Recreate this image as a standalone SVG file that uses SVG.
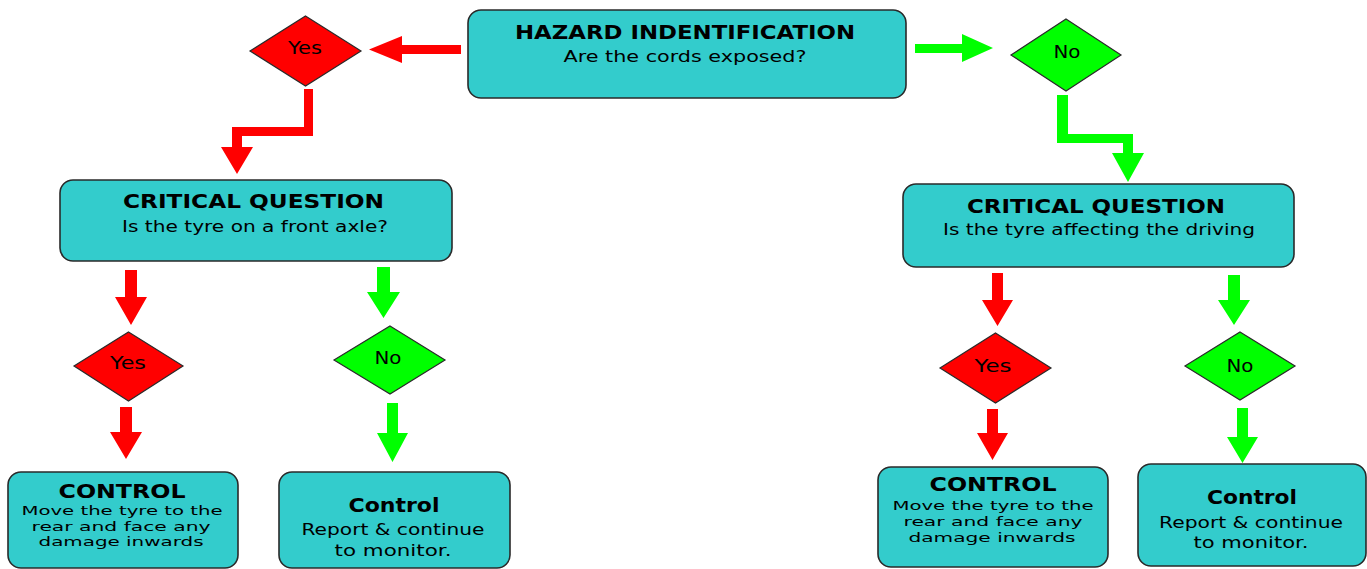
<svg xmlns="http://www.w3.org/2000/svg" width="1367" height="569" viewBox="0 0 1367 569">
<style>
.box{fill:#33CCCC;stroke:#2a2a2a;stroke-width:1.6}
.dr{fill:#FF0000;stroke:#2a2a2a;stroke-width:1.2}
.dg{fill:#00FF00;stroke:#2a2a2a;stroke-width:1.2}
.ar{fill:#FF0000}
.ag{fill:#00FF00}
text{font-family:"DejaVu Sans","Liberation Sans",sans-serif;fill:#000;text-anchor:middle}
.t{font-weight:bold;font-size:19px}
.s{font-size:15px}
.c{font-weight:bold;font-size:19px}
.l{font-size:13px}
.r{font-size:15px}
.d{font-size:17px}
</style>
<rect width="1367" height="569" fill="#fff"/>
<g id="connectors">
<polygon class="ar" points="461,45 402,45 402,36 369,49.5 402,63 402,54 461,54"/>
<polygon class="ar" points="304,89 313,89 313,136 242,136 242,147 253,147 237,174 221,147 232,147 232,127 304,127"/>
<polygon class="ag" points="915,44 962,44 962,34 993,48 962,62 962,53 915,53"/>
<polygon class="ag" points="1057,95 1068,95 1068,134 1133,134 1133,153 1144,153 1128,182 1112,153 1123,153 1123,143 1057,143"/>
<polygon class="ar" points="125,270 137,270 137,297 147,297 131,325 115,297 125,297"/>
<polygon class="ag" points="377,267 390,267 390,292 400,292 383.5,318 367,292 377,292"/>
<polygon class="ar" points="120,407 132,407 132,432 142,432 126,459 110,432 120,432"/>
<polygon class="ag" points="387,403 398,403 398,433 408,433 392.5,462 377,433 387,433"/>
<polygon class="ar" points="992,273 1003,273 1003,300 1013,300 997.5,326 982,300 992,300"/>
<polygon class="ag" points="1228,275 1240,275 1240,300 1250,300 1234,325 1218,300 1228,300"/>
<polygon class="ar" points="987,409 998,409 998,433 1008,433 992.5,460 977,433 987,433"/>
<polygon class="ag" points="1237,408 1248,408 1248,437 1258,437 1242.5,463 1227,437 1237,437"/>
</g>
<g id="hazard">
<rect class="box" x="468" y="10" width="438" height="88" rx="13"/>
<text class="t" x="685" y="39" textLength="340" lengthAdjust="spacingAndGlyphs">HAZARD INDENTIFICATION</text>
<text class="s" x="685" y="62" textLength="243" lengthAdjust="spacingAndGlyphs">Are the cords exposed?</text>
</g>
<g id="yes-top">
<polygon class="dr" points="305.5,16 361,51 305.5,86 250,51"/>
<text class="d" x="305" y="54" textLength="34" lengthAdjust="spacingAndGlyphs">Yes</text>
</g>
<g id="no-top">
<polygon class="dg" points="1066,19 1121,55 1066,91 1011,55"/>
<text class="d" x="1067" y="58" textLength="27" lengthAdjust="spacingAndGlyphs">No</text>
</g>
<g id="critical-left">
<rect class="box" x="60" y="180" width="392" height="81" rx="13"/>
<text class="t" x="253.5" y="208" textLength="261" lengthAdjust="spacingAndGlyphs">CRITICAL QUESTION</text>
<text class="s" x="255" y="232" textLength="266" lengthAdjust="spacingAndGlyphs">Is the tyre on a front axle?</text>
</g>
<g id="critical-right">
<rect class="box" x="903" y="184" width="391" height="83" rx="13"/>
<text class="t" x="1096" y="213" textLength="258" lengthAdjust="spacingAndGlyphs">CRITICAL QUESTION</text>
<text class="s" x="1099" y="235" textLength="312" lengthAdjust="spacingAndGlyphs">Is the tyre affecting the driving</text>
</g>
<g id="yes-left">
<polygon class="dr" points="128.5,332 183,366 128.5,401 74,366"/>
<text class="d" x="128" y="369" textLength="36" lengthAdjust="spacingAndGlyphs">Yes</text>
</g>
<g id="no-left">
<polygon class="dg" points="390,326 445,360 390,394 334,360"/>
<text class="d" x="388" y="364" textLength="27" lengthAdjust="spacingAndGlyphs">No</text>
</g>
<g id="yes-right">
<polygon class="dr" points="995.5,333 1051,368 995.5,403 940,368"/>
<text class="d" x="993" y="372" textLength="37" lengthAdjust="spacingAndGlyphs">Yes</text>
</g>
<g id="no-right">
<polygon class="dg" points="1240,332 1295,366 1240,400 1185,366"/>
<text class="d" x="1240" y="372" textLength="27" lengthAdjust="spacingAndGlyphs">No</text>
</g>
<g id="control-left-yes">
<rect class="box" x="8" y="472" width="230" height="96" rx="13"/>
<text class="c" x="122" y="498" textLength="127" lengthAdjust="spacingAndGlyphs">CONTROL</text>
<text class="l" x="122" y="515" textLength="201" lengthAdjust="spacingAndGlyphs">Move the tyre to the</text>
<text class="l" x="121" y="531" textLength="179" lengthAdjust="spacingAndGlyphs">rear and face any</text>
<text class="l" x="121" y="546" textLength="165" lengthAdjust="spacingAndGlyphs">damage inwards</text>
</g>
<g id="control-left-no">
<rect class="box" x="279" y="472" width="231" height="96" rx="13"/>
<text class="c" x="394" y="512" textLength="91" lengthAdjust="spacingAndGlyphs">Control</text>
<text class="r" x="393" y="535" textLength="183" lengthAdjust="spacingAndGlyphs">Report &amp; continue</text>
<text class="r" x="393" y="556" textLength="117" lengthAdjust="spacingAndGlyphs">to monitor.</text>
</g>
<g id="control-right-yes">
<rect class="box" x="878" y="467" width="230" height="100" rx="13"/>
<text class="c" x="993" y="491" textLength="127" lengthAdjust="spacingAndGlyphs">CONTROL</text>
<text class="l" x="993" y="510" textLength="201" lengthAdjust="spacingAndGlyphs">Move the tyre to the</text>
<text class="l" x="993" y="526" textLength="179" lengthAdjust="spacingAndGlyphs">rear and face any</text>
<text class="l" x="992" y="542" textLength="167" lengthAdjust="spacingAndGlyphs">damage inwards</text>
</g>
<g id="control-right-no">
<rect class="box" x="1138" y="464" width="228" height="102" rx="13"/>
<text class="c" x="1252" y="504" textLength="90" lengthAdjust="spacingAndGlyphs">Control</text>
<text class="r" x="1251" y="528" textLength="184" lengthAdjust="spacingAndGlyphs">Report &amp; continue</text>
<text class="r" x="1251" y="548" textLength="115" lengthAdjust="spacingAndGlyphs">to monitor.</text>
</g>
</svg>
